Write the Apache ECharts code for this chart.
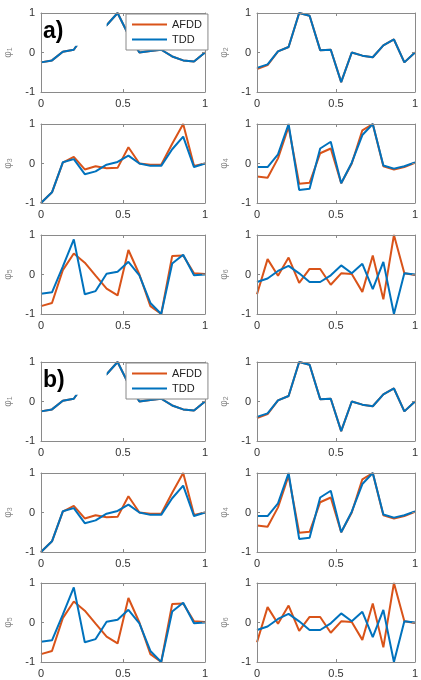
<!DOCTYPE html>
<html><head><meta charset="utf-8">
<script src="https://cdn.jsdelivr.net/npm/echarts@6/dist/echarts.min.js"></script>
<style>html,body{margin:0;padding:0;background:#fff}#c{width:421px;height:680px}</style>
</head><body><div id="c"></div>
<script>
const xPos = [0, 0.067, 0.133, 0.2, 0.267, 0.333, 0.4, 0.467, 0.533, 0.6, 0.667, 0.733, 0.8, 0.867, 0.933, 1];
const xTicks = [0, 0.5, 1];
const yTicks = [-1, 0, 1];
const seriesNames = ['AFDD', 'TDD'];
const panelLabels = ['a)', 'b)'];

const phi1AFDD = [-0.25, -0.2, 0.02, 0.07, 0.47, 0.6, 0.69, 1.0, 0.45, 0.0, 0.04, 0.07, -0.1, -0.2, -0.23, 0.0];
const phi1TDD  = [-0.25, -0.2, 0.02, 0.07, 0.47, 0.6, 0.69, 1.0, 0.45, 0.0, 0.04, 0.07, -0.1, -0.2, -0.23, 0.0];
const phi2AFDD = [-0.42, -0.32, 0.03, 0.14, 1.0, 0.93, 0.06, 0.07, -0.75, 0.0, -0.08, -0.12, 0.18, 0.33, -0.25, 0.0];
const phi2TDD  = [-0.39, -0.3, 0.03, 0.14, 1.0, 0.93, 0.06, 0.07, -0.75, 0.0, -0.08, -0.12, 0.18, 0.33, -0.25, 0.0];
const phi3AFDD = [-1.0, -0.73, 0.02, 0.17, -0.15, -0.07, -0.12, -0.11, 0.41, 0.0, -0.03, -0.03, 0.5, 1.0, -0.06, 0.0];
const phi3TDD  = [-1.0, -0.73, 0.03, 0.11, -0.27, -0.2, -0.03, 0.04, 0.2, 0.0, -0.06, -0.06, 0.36, 0.68, -0.09, 0.0];
const phi4AFDD = [-0.33, -0.36, 0.13, 0.93, -0.51, -0.49, 0.26, 0.38, -0.5, 0.0, 0.84, 1.0, -0.07, -0.15, -0.09, 0.02];
const phi4TDD  = [-0.09, -0.09, 0.23, 1.0, -0.67, -0.64, 0.38, 0.55, -0.5, 0.02, 0.72, 1.0, -0.05, -0.13, -0.07, 0.03];
const phi5AFDD = [-0.8, -0.72, 0.11, 0.53, 0.3, -0.03, -0.36, -0.53, 0.62, 0.0, -0.8, -1.0, 0.47, 0.48, 0.03, 0.01];
const phi5TDD  = [-0.49, -0.45, 0.2, 0.89, -0.5, -0.42, 0.02, 0.07, 0.32, -0.02, -0.72, -1.0, 0.28, 0.5, -0.02, 0.0];
const phi6AFDD = [-0.5, 0.39, -0.03, 0.43, -0.21, 0.14, 0.14, -0.26, 0.03, 0.01, -0.44, 0.48, -0.63, 1.0, 0.03, -0.01];
const phi6TDD  = [-0.19, -0.1, 0.09, 0.22, 0.03, -0.19, -0.19, -0.02, 0.23, 0.03, 0.27, -0.37, 0.32, -1.0, 0.03, 0.0];

// region of the first panel hidden behind the label box (data coords)
const maskFrom = [0.004, 0.17];
const maskTo = [0.4, 0.995];

const modes = [
  {n: '1', a: phi1AFDD, t: phi1TDD},
  {n: '2', a: phi2AFDD, t: phi2TDD},
  {n: '3', a: phi3AFDD, t: phi3TDD},
  {n: '4', a: phi4AFDD, t: phi4TDD},
  {n: '5', a: phi5AFDD, t: phi5TDD},
  {n: '6', a: phi6AFDD, t: phi6TDD}
];

const colors = {AFDD: '#D95319', TDD: '#0072BD'};
const font = "'Liberation Sans', Arial, sans-serif";
const tops = [13, 124, 235, 362, 473, 583];
const lefts = [41, 257];
const widths = [164, 163];
const H = 79;
const axisCol = '#8a8a8a';

const grid = [], xAxis = [], yAxis = [], series = [], graphic = [], legend = [];
const maskGrids = [];
let gi = 0;
for (let g = 0; g < 2; g++) {
  for (let m = 0; m < 6; m++) {
    const row = g * 3 + Math.floor(m / 2), col = m % 2;
    grid.push({left: lefts[col], top: tops[row], width: widths[col], height: H, show: false});
    const common = {min: xTicks[0], max: xTicks[xTicks.length - 1], interval: 0.5, gridIndex: gi, z: 5,
      splitLine: {show: false},
      axisLine: {show: true, onZero: false, lineStyle: {color: axisCol, width: 1}},
      axisTick: {show: true, inside: true, length: 3, lineStyle: {color: axisCol}}};
    xAxis.push(Object.assign({}, common, {type: 'value', position: 'bottom',
      axisLabel: {show: true, color: '#333', fontSize: 11, fontFamily: font, margin: 6,
        formatter: v => xTicks.includes(v) ? String(v) : ''}}));
    xAxis.push(Object.assign({}, common, {type: 'value', position: 'top', axisLabel: {show: false}}));
    const ycommon = {type: 'value', min: yTicks[0], max: yTicks[yTicks.length - 1], interval: 1, gridIndex: gi, z: 5,
      splitLine: {show: false},
      axisLine: {show: true, onZero: false, lineStyle: {color: axisCol, width: 1}},
      axisTick: {show: true, inside: true, length: 3, lineStyle: {color: axisCol}}};
    yAxis.push(Object.assign({}, ycommon, {position: 'left',
      name: '{p|φ}{s|' + modes[m].n + '}', nameLocation: 'middle', nameGap: 27, nameRotate: 90,
      nameTextStyle: {rich: {p: {fontSize: 10, color: '#888', fontFamily: font}, s: {fontSize: 7, color: '#888', fontFamily: font, verticalAlign: 'bottom', padding: [5, 0, 0, 0]}}},
      axisLabel: {show: true, color: '#333', fontSize: 11, fontFamily: font, margin: 6}}));
    yAxis.push(Object.assign({}, ycommon, {position: 'right', axisLabel: {show: false}}));
    const xi = gi * 2, yi = gi * 2;
    const mk = (name, vals) => ({
      name, type: 'line', xAxisIndex: xi, yAxisIndex: yi, showSymbol: false, symbol: 'none',
      color: colors[name], lineStyle: {width: 2, color: colors[name]}, z: 2, animation: false,
      data: xPos.map((x, i) => [x, vals[i]])
    });
    series.push(mk('AFDD', modes[m].a));
    series.push(mk('TDD', modes[m].t));
    if (m === 0) {
      maskGrids.push(gi);
      graphic.push({type: 'text', left: 43, top: tops[row] + 7, z: 20,
        style: {text: panelLabels[g], font: "bold 23px " + font, fill: '#000'}});
      legend.push({data: seriesNames, orient: 'vertical', left: 126, top: tops[row] + 1,
        itemWidth: 35, itemHeight: 2, icon: 'rect', itemGap: 4,
        padding: [5, 6, 5, 6], borderColor: '#888', borderWidth: 1, backgroundColor: '#fff',
        textStyle: {fontSize: 11, color: '#222', fontFamily: font, lineHeight: 11}, z: 10, selectedMode: false});
    }
    gi++;
  }
}

const chart = echarts.init(document.getElementById('c'), null, {renderer: 'canvas'});
chart.setOption({animation: false, backgroundColor: '#fff', grid, xAxis, yAxis, series, legend, graphic});

// white box (label background) covering part of the first panel, placed through the library's scales
const masks = maskGrids.map((gIdx, k) => {
  const p1 = chart.convertToPixel({gridIndex: gIdx}, maskFrom);
  const p2 = chart.convertToPixel({gridIndex: gIdx}, maskTo);
  return {type: 'rect', id: 'mask' + k, z: 3,
    shape: {x: Math.min(p1[0], p2[0]), y: Math.min(p1[1], p2[1]), width: Math.abs(p2[0] - p1[0]), height: Math.abs(p2[1] - p1[1])},
    style: {fill: '#fff'}};
});
chart.setOption({graphic: graphic.concat(masks)});
</script></body></html>
